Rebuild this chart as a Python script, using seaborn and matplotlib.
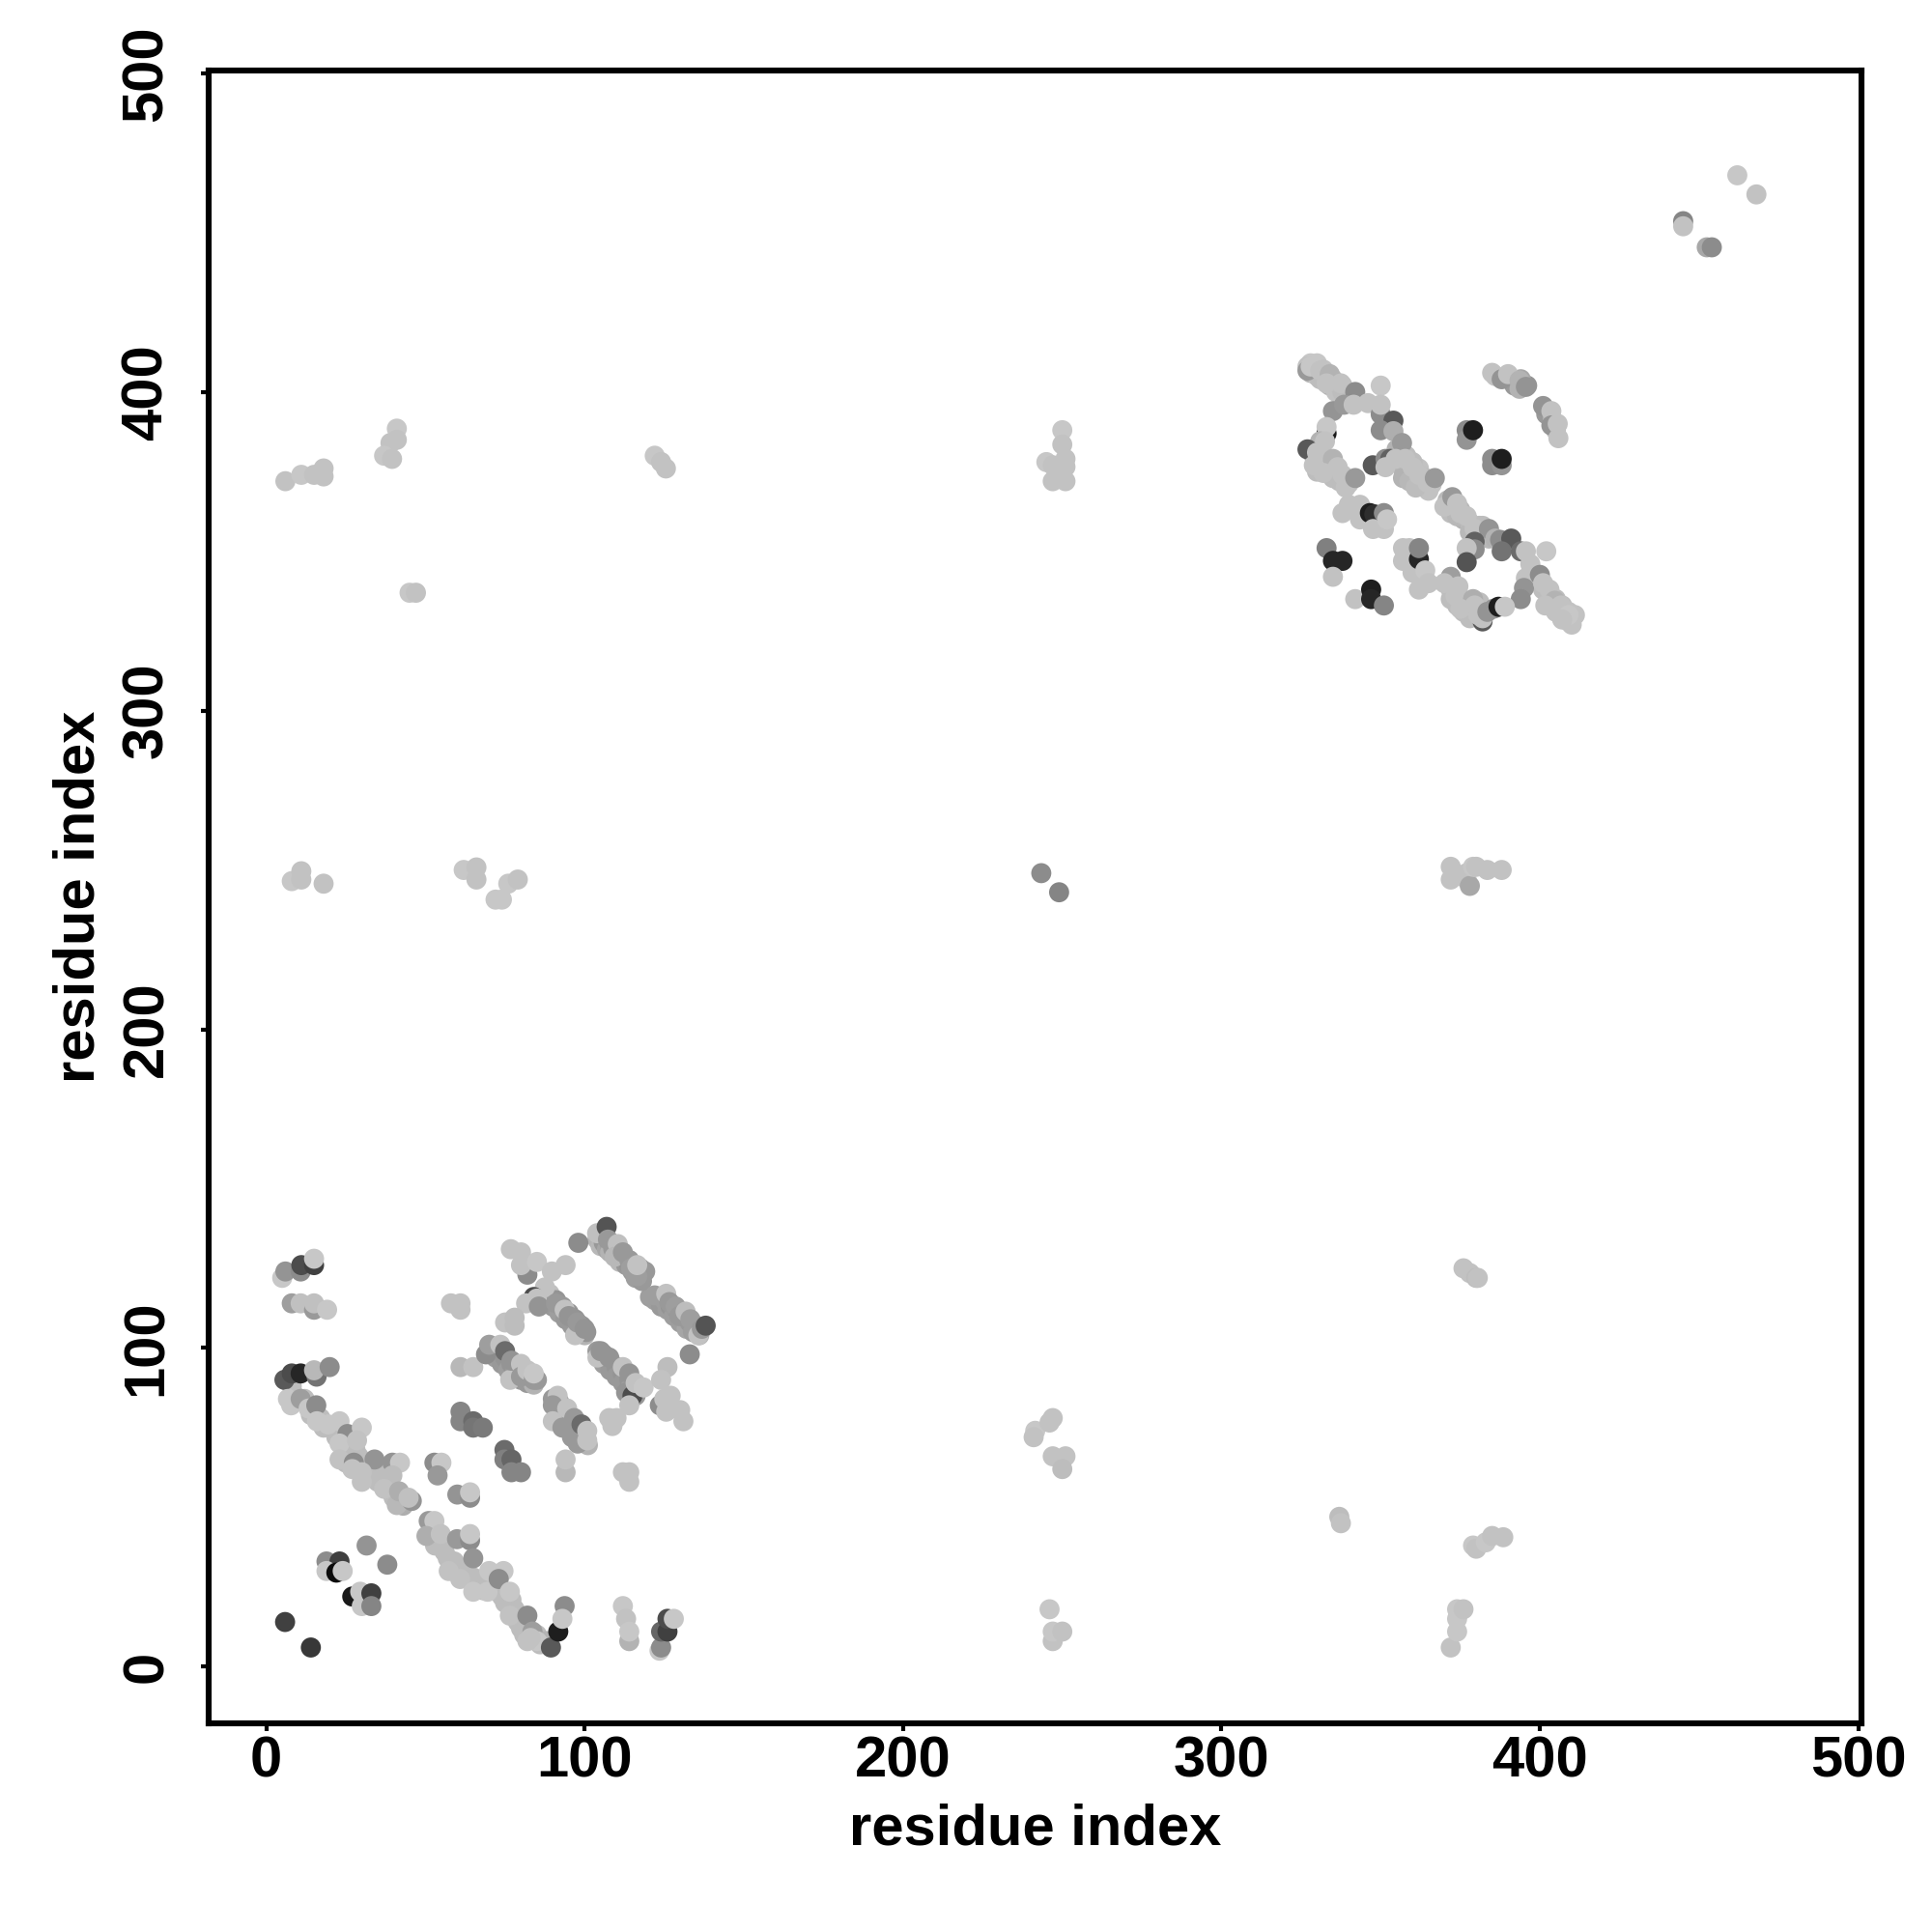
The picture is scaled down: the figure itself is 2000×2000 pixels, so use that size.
"""
plot.py
-------
Contact map: residue index vs residue index, grey level = contact score.

Gera: out.png
"""

import matplotlib
matplotlib.use("Agg")
import matplotlib.pyplot as plt
import pandas as pd
import seaborn as sns

# miolo das faixas (desenhado primeiro, por baixo)
band_x = [104, 105, 105, 106, 107, 108, 108, 109, 110, 111,
          111, 112, 113, 114, 115, 116, 116, 117, 117.5, 120.5,
          122, 123, 124, 125, 126, 127, 128, 129, 130, 131,
          132, 133, 134, 135, 136, 88, 89, 90, 91, 92,
          93, 94, 95, 96, 97, 98, 99, 100, 100.5, 70,
          71, 72, 73, 74, 75, 76, 77, 78, 79, 80,
          81, 82, 83, 84, 85, 104, 106, 106, 108, 108,
          110, 110, 112, 112, 114, 114, 116, 116, 90, 91,
          92, 92, 93, 94, 95, 96, 97, 98, 99, 100,
          101, 96, 118, 118, 119]
band_y = [134, 135, 132, 133, 131, 132, 130, 131, 129, 130,
          127, 128, 126, 126, 124, 125, 122, 123, 125, 116,
          115, 116, 113, 115, 112, 113, 110, 112, 108, 110,
          106, 108, 105, 107, 104, 116, 117, 113, 115, 111,
          113, 109, 111, 107, 109, 105, 107, 104, 105, 99,
          100, 97, 99, 95, 97, 93, 95, 92, 93, 90,
          92, 89, 91, 88.5, 90, 99, 98, 95, 96, 93,
          94, 91, 92, 89, 90, 87, 88, 85, 84, 82,
          80, 83, 78, 79, 76, 75, 73, 74, 71, 72,
          69.5, 72, 123, 121, 124]
band_s = [.7, .62, .72, .6, .65, .62, .7, .6, .68, .58,
          .72, .6, .6, .58, .6, .6, .62, .62, .6, .62,
          .62, .6, .6, .62, .62, .58, .62, .6, .62, .58,
          .65, .6, .62, .62, .7, .7, .75, .6, .58, .62,
          .6, .6, .58, .6, .58, .62, .58, .7, .58, .62,
          .6, .62, .6, .6, .58, .62, .58, .62, .58, .6,
          .58, .6, .58, .7, .6, .6, .58, .62, .58, .6,
          .58, .6, .58, .6, .58, .62, .6, .6, .6, .58,
          .6, .62, .6, .58, .6, .58, .62, .6, .6, .6,
          .7, .6, .62, .6, .6]

# miolo claro da diagonal N-terminal
fill_x = [8, 9, 12, 14, 17, 18, 21, 22, 25, 26,
          25, 28, 29, 31, 32, 33, 35, 36, 38, 39,
          40, 42, 43, 52, 53, 53, 55, 56, 57, 59,
          60, 62, 63, 65, 66, 68, 68, 71, 72, 74,
          75, 77, 78, 79, 80, 81, 83, 85, 88, 86]
fill_y = [88, 85, 84, 79, 78, 75, 75, 72, 71, 68,
          64, 68, 66, 63, 60, 62, 58, 60, 57, 55,
          53, 52, 50.5, 43, 43, 38, 38, 36, 34, 33,
          31, 29, 30, 28, 26, 27, 24, 26, 24, 22,
          20, 21, 18, 14, 12, 10, 9, 10, 8, 7]
fill_s = [.74, .74, .74, .74, .74, .74, .74, .74, .74, .74,
          .74, .74, .74, .74, .74, .74, .74, .74, .74, .74,
          .74, .74, .68, .68, .74, .74, .74, .74, .74, .74,
          .74, .74, .74, .74, .74, .74, .74, .74, .74, .74,
          .74, .74, .74, .74, .74, .74, .74, .74, .7, .74]

# miolo das faixas C-terminais
cfill_x = [328, 330, 332, 334, 335, 336, 338, 339, 356, 358,
           359, 361, 363, 365, 357, 360, 355, 362, 329, 331,
           333, 335, 337, 339, 330, 371, 373, 375, 376, 378,
           380, 381, 382, 371, 372, 374, 375, 377, 378, 380,
           399, 401, 403, 404, 405, 406, 408, 409, 410, 408,
           407, 386, 392, 396, 394, 402, 404, 405, 328, 330,
           332, 327, 331, 334, 336, 338, 340, 358, 360, 362,
           364, 366, 357, 359, 361, 372, 374, 378, 382, 384,
           372, 374, 376, 378, 381, 409, 411, 410, 407, 405]
cfill_y = [406, 405, 404, 402, 404, 400, 400, 398, 380, 377,
           375, 373, 371, 369, 376, 372, 382, 376, 380, 378,
           376, 373, 372, 370, 375, 366, 364, 363, 360, 359,
           356, 358, 355, 340, 338, 336, 334, 334, 331, 332,
           341, 338, 336, 333, 335, 331, 329, 328, 329, 331,
           333, 405, 402, 402, 404, 393, 391, 388, 409, 409,
           407, 408, 404, 405, 403, 402, 399, 380, 378, 374,
           373, 371, 373, 372, 370, 362, 361, 356, 358, 354,
           335, 333, 331, 329, 334, 331, 330, 327, 329, 331]
cfill_s = [.7, .76, .76, .7, .72, .76, .74, .74, .72, .74,
           .74, .74, .76, .76, .7, .72, .7, .76, .72, .74,
           .7, .74, .74, .76, .74, .72, .7, .72, .7, .74,
           .74, .74, .7, .74, .74, .74, .74, .72, .74, .74,
           .74, .74, .74, .74, .74, .74, .76, .76, .76, .76,
           .74, .76, .6, .58, .66, .6, .72, .74, .78, .78,
           .76, .76, .74, .74, .74, .74, .74, .74, .74, .74,
           .74, .76, .7, .72, .74, .74, .72, .72, .74, .72,
           .74, .74, .74, .74, .74, .76, .76, .76, .76, .76]

# N-terminal diagonal
diag_x = [5, 6, 10.8, 11, 15, 15, 8, 10.8, 15, 15,
          19.1, 5.7, 8, 10.8, 15.8, 15, 19.9, 6.8, 7.8, 10.8,
          13.3, 15.7, 15.9, 19.4, 23, 25.5, 23, 30, 28.5, 23,
          27.5, 34, 30, 39.6, 42, 27, 30, 39.6, 37, 41,
          41.7, 45.7, 44.7, 51, 52.8, 50.3, 54.8, 59.9, 64, 64,
          65, 57.3, 60.9, 65, 69.5, 74.5, 70, 73, 76.5, 76.5,
          82, 83.6, 85, 82]
diag_y = [122, 124, 124, 126, 126, 128, 114, 114, 112, 114,
          112, 90, 92, 92, 91, 93, 94, 84, 82, 84,
          81, 82, 77, 76, 77, 73, 70, 75, 71, 65,
          64, 65, 61, 64, 64, 62, 58, 60, 55.8, 50.7,
          55, 52, 53, 45.7, 45.7, 41, 41.6, 40, 39.6, 41.6,
          34, 30, 27.5, 23.5, 23.5, 30, 30, 27.5, 23.5, 16,
          16, 11, 8, 8]
diag_s = [.78, .58, .55, .3, .25, .78, .62, .75, .6, .75,
          .78, .35, .3, .15, .45, .72, .55, .78, .78, .62,
          .78, .55, .78, .78, .78, .55, .78, .78, .76, .76,
          .55, .58, .76, .58, .78, .76, .76, .74, .76, .72,
          .68, .58, .75, .6, .78, .68, .76, .6, .55, .78,
          .58, .76, .76, .78, .78, .78, .78, .55, .78, .76,
          .55, .62, .78, .76]

# contatos isolados perto do N-terminal
near_x = [18.9, 23, 18.9, 22, 24, 31.5, 38, 27, 29.5, 30,
          33, 33, 5.9, 14, 89.4, 91.7, 93.7, 93, 83, 112,
          113, 114, 114, 123.5, 124, 124, 126, 126, 128, 52.8,
          55, 53.8, 60, 64, 64, 61, 61, 65, 65, 68,
          74.8, 74.8, 77, 77, 80, 58, 61, 61, 61, 65]
near_y = [33, 33, 30, 29.5, 30, 38, 32, 22, 23.5, 19,
          23, 19, 14, 6, 6, 11, 19, 15, 9, 19,
          15, 8, 11, 5, 6, 11, 11, 15, 15, 64,
          64, 60, 54, 53, 54.7, 80, 77, 77, 75, 75,
          68, 65, 65, 61, 61, 114, 114, 112, 94, 94]
near_s = [.55, .25, .78, .05, .78, .58, .55, .1, .78, .78,
          .25, .52, .25, .22, .35, .12, .55, .78, .76, .78,
          .76, .7, .78, .78, .55, .4, .25, .3, .78, .55,
          .78, .6, .58, .55, .78, .52, .52, .42, .46, .48,
          .42, .5, .4, .52, .52, .76, .76, .76, .72, .76]

# folhas antiparalelas (residuos 60-140)
sheet_x = [98, 103.9, 106.9, 107.3, 110.4, 109.4, 112, 114, 114.5, 116.5,
           116.5, 122, 125.6, 126.6, 128.6, 129.7, 131.7, 133.2, 135.7, 136.8,
           138, 133, 76.8, 80, 82, 80, 85, 89.7, 94, 87.5,
           84, 81.6, 85, 85.6, 91, 93.7, 95, 97, 97.7, 100,
           75, 78, 78, 69, 70, 73.5, 75, 76.6, 77, 80,
           80, 82, 84, 84, 104, 105, 107.7, 112, 114, 113,
           115, 114, 116, 118.5, 126, 124, 123.6, 127, 125, 125.6,
           130, 131, 91.5, 90, 94.5, 90, 93, 96.7, 99, 97.8,
           100.8, 100.8, 107.7, 110, 108.7, 94, 94, 112, 114, 114]
sheet_y = [133, 136, 138, 134, 132.6, 128.6, 130, 127.6, 125, 122.5,
           126, 116.5, 117, 114.4, 113, 110, 111.4, 109, 104, 106,
           107, 98, 131, 130, 123, 126, 127, 124, 126, 119,
           116, 114, 115.5, 113, 114, 112, 110, 104, 108, 106,
           108, 109.5, 107, 98, 101, 101, 99, 90, 96, 95,
           91, 93, 90, 92, 97, 99, 97, 94, 92, 86,
           85, 82, 89, 87.6, 94, 90, 82, 85, 84, 80,
           80.5, 77, 85, 82, 81, 77, 75, 78, 76, 70,
           71, 74, 78, 78, 75.5, 61, 65, 61, 61, 58]
sheet_s = [.55, .75, .33, .6, .75, .72, .6, .6, .62, .62,
           .76, .62, .76, .6, .62, .6, .74, .62, .76, .6,
           .33, .55, .76, .76, .55, .76, .78, .76, .76, .76,
           .3, .76, .76, .58, .6, .76, .58, .76, .6, .58,
           .76, .74, .74, .55, .62, .76, .42, .76, .58, .76,
           .6, .76, .6, .78, .76, .58, .58, .76, .58, .58,
           .3, .76, .76, .78, .74, .76, .55, .76, .76, .76,
           .76, .76, .76, .6, .76, .76, .6, .6, .42, .6,
           .76, .76, .76, .76, .76, .72, .76, .76, .76, .76]

# pontos pequenos espalhados no meio do mapa
sparse_x = [246, 247, 247, 250, 372, 374, 374, 374, 376, 337,
            337.5, 379, 380, 383, 385, 388.5, 376, 378, 380, 380.5,
            241.5, 241, 246, 247, 247, 251, 250, 243.4, 249, 8,
            11, 11, 18, 62, 66, 66, 72, 74, 76, 79,
            372, 372, 377, 377, 378, 379, 380, 383.5, 388, 6,
            11, 15, 18, 18, 41, 41, 39, 37, 39.5, 122,
            124, 125.5, 250, 250, 245, 247, 251, 251, 247, 251,
            45, 47, 445, 445, 452.4, 454, 462, 468]
sparse_y = [18, 8, 11, 11, 6, 11, 15, 18, 18, 47,
            45, 38, 37, 39, 41, 40.6, 125, 123.5, 122, 122,
            74, 72, 76.6, 78, 66, 66, 62, 249, 243, 246.5,
            249.6, 247, 245.7, 250, 250.8, 247, 240.7, 240.7, 245.7, 247,
            251, 247, 247, 249, 245, 251, 251, 250, 250, 372,
            374, 374, 376, 373.5, 388.5, 385, 384, 380, 379, 380,
            378, 376, 388, 383.5, 378, 377, 379, 376.5, 372, 372,
            337, 337, 453.6, 452, 445.4, 445.4, 468, 462]
sparse_s = [.78, .76, .78, .76, .76, .78, .78, .78, .76, .74,
            .76, .78, .76, .78, .76, .76, .76, .76, .74, .76,
            .78, .76, .76, .76, .76, .76, .74, .55, .52, .78,
            .76, .76, .76, .78, .76, .76, .78, .78, .78, .76,
            .76, .76, .76, .76, .66, .78, .76, .76, .76, .76,
            .78, .76, .76, .76, .78, .76, .76, .78, .76, .78,
            .76, .76, .78, .76, .78, .76, .76, .76, .76, .76,
            .78, .76, .52, .76, .66, .55, .78, .76]

# dominio C-terminal (residuos 325-410)
ctd_x = [327, 328, 331, 334, 333, 337.5, 342, 350, 335, 338.5,
         341.5, 346, 350, 350, 354, 333, 333, 350, 354, 356.7,
         331, 332.5, 327, 330, 335, 329, 332, 336.5, 338, 340,
         342, 347.5, 351.5, 353, 351.5, 354.7, 357.7, 360, 362, 364.7,
         367, 385, 388, 390, 393.6, 393.6, 395.6, 401, 403.6, 403.6,
         405.6, 405.8, 377, 377, 379, 385, 385, 388, 388, 338,
         340, 343.5, 343.5, 346.6, 348, 347.6, 351, 351, 352, 333,
         335, 338, 335, 357, 359, 357, 360, 362, 362, 364,
         362, 365, 342, 347, 347, 351]
ctd_y = [406.7, 408, 406.7, 405.6, 402.7, 402.7, 400, 402, 394, 396,
         396, 396.5, 393, 396, 391, 387, 389, 388, 387.7, 384,
         384.5, 384.5, 382, 381, 379, 377, 374.6, 376.4, 374, 371.3,
         373, 377, 379, 379, 376.4, 379, 379, 376.4, 374, 371.5,
         373, 406, 404, 405.6, 403.6, 401, 401.6, 395.6, 394, 389.5,
         390, 385.5, 388, 385, 388, 379, 377, 377, 379, 362,
         364.6, 364.6, 360, 362, 361.6, 357, 362, 357, 360, 351,
         347, 347, 342, 351, 351, 347, 343.3, 347.5, 351, 344,
         338, 340, 335, 338, 335, 333]
ctd_s = [.6, .78, .76, .7, .76, .76, .55, .78, .58, .6,
         .76, .76, .55, .76, .35, .1, .78, .55, .68, .6,
         .7, .76, .35, .76, .7, .76, .76, .76, .76, .76,
         .6, .35, .55, .38, .76, .76, .76, .76, .76, .76,
         .6, .76, .58, .76, .7, .7, .58, .58, .76, .58,
         .76, .76, .55, .58, .12, .55, .55, .58, .12, .76,
         .76, .76, .76, .12, .18, .76, .55, .76, .78, .5,
         .15, .15, .76, .76, .76, .76, .76, .15, .52, .78,
         .76, .76, .76, .12, .15, .52]

ctd2_x = [370, 372.5, 374, 375, 377, 379.5, 384, 379.5, 386, 387.5,
          391, 388, 379.5, 377, 377, 394, 395.6, 402, 397, 395.6,
          395, 394, 400, 401, 403, 404.7, 401.7, 406.6, 409, 407,
          372, 370, 374.4, 373.5, 379, 375, 379.5, 382, 380.6, 382,
          383.5, 385.5, 387, 389]
ctd2_y = [364, 367, 365, 362, 361, 357, 357, 353, 354, 353.6,
          354, 350, 350.6, 351, 346.6, 350, 350, 350, 346, 341.6,
          338.5, 335, 342.6, 340, 338, 334.5, 333, 333, 330, 328.6,
          342, 340, 339, 336, 335, 332, 333, 328, 330, 329,
          331, 332, 332.6, 332.6]
ctd2_s = [.76, .6, .76, .76, .76, .76, .58, .38, .7, .55,
          .35, .45, .55, .76, .33, .42, .76, .78, .76, .76,
          .58, .55, .55, .76, .76, .7, .76, .76, .78, .76,
          .62, .76, .76, .76, .68, .76, .76, .35, .76, .76,
          .58, .58, .12, .78]

x_ticks = [0, 100, 200, 300, 400, 500]
y_ticks = [0, 100, 200, 300, 400, 500]


def main():
    sns.set_theme(style="white")
    plt.rcParams["font.family"] = ["Liberation Sans", "DejaVu Sans"]
    plt.rcParams["font.weight"] = "bold"

    df = pd.DataFrame({
        "x": band_x + fill_x + cfill_x + diag_x + near_x + sheet_x + sparse_x + ctd_x + ctd2_x,
        "y": band_y + fill_y + cfill_y + diag_y + near_y + sheet_y + sparse_y + ctd_y + ctd2_y,
        "score": band_s + fill_s + cfill_s + diag_s + near_s + sheet_s + sparse_s + ctd_s + ctd2_s,
    })

    fig = plt.figure(figsize=(10, 10), dpi=200)
    ax = fig.add_axes([0.108, 0.108, 0.8555, 0.8557])

    sns.scatterplot(data=df, x="x", y="y", hue="score", palette="gray",
                    hue_norm=(0, 1), s=56, linewidth=0, legend=False, ax=ax)

    ax.set_xlim(-18.1, 501)
    ax.set_ylim(-17.8, 501)
    ax.set_xticks(x_ticks)
    ax.set_yticks(y_ticks)
    ax.tick_params(axis="both", length=3, width=1.5, color="black",
                   labelsize=21.5, labelcolor="black", left=True, bottom=True)
    ax.tick_params(axis="x", pad=1.5)
    ax.tick_params(axis="y", pad=10)
    plt.setp(ax.get_yticklabels(), rotation=90, va="center", fontweight="bold")
    plt.setp(ax.get_xticklabels(), fontweight="bold")

    for spine in ax.spines.values():
        spine.set_linewidth(2.2)
        spine.set_color("black")

    ax.set_xlabel("residue index", fontsize=21.5, fontweight="bold", color="black")
    ax.set_ylabel("residue index", fontsize=21.5, fontweight="bold", color="black")
    ax.xaxis.set_label_coords(0.5, -0.048)
    ax.yaxis.set_label_coords(-0.0625, 0.5)

    fig.savefig("out.png", dpi=200, facecolor="white")
    plt.close(fig)


if __name__ == "__main__":
    main()
